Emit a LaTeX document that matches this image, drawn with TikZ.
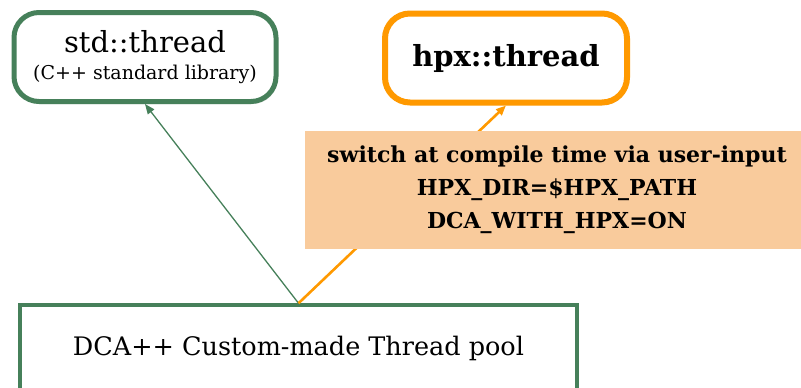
\documentclass[tikz,border=0pt]{standalone}
\usepackage{fontspec}
\setmainfont{DejaVu Serif}
\usetikzlibrary{arrows.meta,shadows}
\definecolor{poolgreen}{RGB}{70,128,90}
\definecolor{hpxorange}{RGB}{255,153,0}
\definecolor{switchpeach}{RGB}{249,203,156}
\begin{document}
\begin{tikzpicture}[x=1pt,y=-1pt]
  \tikzstyle{impl}=[draw,fill=white,rounded corners=25pt,align=center,
    drop shadow={opacity=0.3,shadow xshift=1.5pt,shadow yshift=-2.5pt}]
  \tikzstyle{link}=[-{Triangle[length=10pt,width=8pt]}]
  \useasboundingbox (0,0) rectangle (801,388);
  \node[impl,draw=poolgreen,line width=5pt,minimum width=262pt,minimum height=89pt,
    font=\fontsize{29}{27}\selectfont] (std) at (145,57)
    {std::thread\\{\fontsize{19}{22}\selectfont (C++ standard library)}};
  \node[impl,draw=hpxorange,line width=6pt,minimum width=242pt,minimum height=89pt,
    font=\fontsize{29}{34}\selectfont\bfseries] (hpx) at (506,58) {hpx::thread};
  \node[draw=poolgreen,line width=3.5pt,minimum width=557pt,minimum height=86pt,
    font=\fontsize{25.5}{30}\selectfont] (pool) at (298.5,348) {DCA++ Custom-made Thread pool};
  % links from the pool
  \draw[link,poolgreen,line width=1.3pt] (pool.north) -- (std.south);
  \draw[link,hpxorange,line width=2.6pt] (pool.north) -- (hpx.south);
  \node[fill=switchpeach,minimum width=504pt,minimum height=118pt,align=center,
    font=\fontsize{22}{33}\selectfont\bfseries] (switch) at (557,190)
    {switch at compile time via user-input\\ HPX\_DIR=\$HPX\_PATH\\ DCA\_WITH\_HPX=ON};
\end{tikzpicture}
\end{document}
